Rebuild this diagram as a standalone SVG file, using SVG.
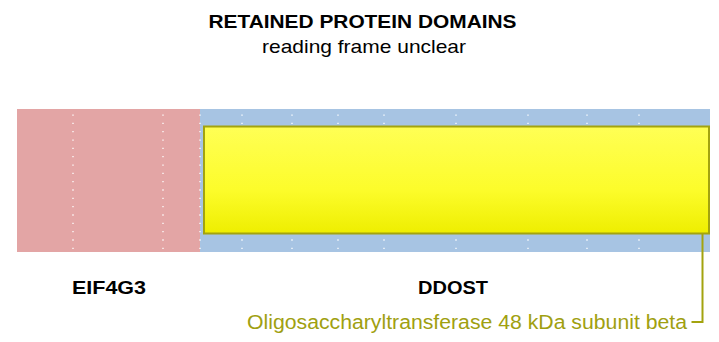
<svg xmlns="http://www.w3.org/2000/svg" width="719" height="342" viewBox="0 0 719 342">
<style>
.t{font-family:"Liberation Sans",Arial,sans-serif;fill:#000}
.b{font-weight:bold}
.grid{stroke:#ffffff;stroke-width:1.3;stroke-dasharray:1.3 7.03;fill:none}
.lbl{font-family:"Liberation Sans",Arial,sans-serif;fill:#a0a010}
.conn{stroke:#a3a30f;stroke-width:2;fill:none}
</style>
<defs>
<linearGradient id="yg" x1="0" y1="0" x2="0" y2="1">
<stop offset="0" stop-color="#ffff55"/>
<stop offset="0.6" stop-color="#fcfc2a"/>
<stop offset="1" stop-color="#eeee00"/>
</linearGradient>
</defs>
<g id="title">
<text class="t b" x="362.5" y="28" font-size="18" text-anchor="middle" textLength="308" lengthAdjust="spacingAndGlyphs">RETAINED PROTEIN DOMAINS</text>
<text class="t" x="364" y="53" font-size="19" text-anchor="middle" textLength="204" lengthAdjust="spacingAndGlyphs">reading frame unclear</text>
</g>
<g id="EIF4G3">
<rect x="17" y="109" width="183" height="143" fill="#e3a5a5"/>
<line class="grid" x1="73" y1="114.4" x2="73" y2="252"/>
<line class="grid" x1="163" y1="114.4" x2="163" y2="252"/>
<text class="t b" x="109" y="294" font-size="18" text-anchor="middle" textLength="74" lengthAdjust="spacingAndGlyphs">EIF4G3</text>
</g>
<g id="DDOST">
<rect x="200" y="109" width="510" height="143" fill="#a7c4e3"/>
<line class="grid" x1="200" y1="114.4" x2="200" y2="252"/>
<line class="grid" x1="242" y1="114.4" x2="242" y2="252"/>
<line class="grid" x1="292" y1="114.4" x2="292" y2="252"/>
<line class="grid" x1="338" y1="114.4" x2="338" y2="252"/>
<line class="grid" x1="384" y1="114.4" x2="384" y2="252"/>
<line class="grid" x1="456" y1="114.4" x2="456" y2="252"/>
<line class="grid" x1="528" y1="114.4" x2="528" y2="252"/>
<line class="grid" x1="587" y1="114.4" x2="587" y2="252"/>
<line class="grid" x1="639" y1="114.4" x2="639" y2="252"/>
<text class="t b" x="453" y="294" font-size="18" text-anchor="middle" textLength="70" lengthAdjust="spacingAndGlyphs">DDOST</text>
</g>
<g id="domain">
<rect x="204" y="126.5" width="505" height="107" fill="url(#yg)" stroke="#a3a30f" stroke-width="2"/>
<text class="lbl" x="247" y="329" font-size="20" textLength="440" lengthAdjust="spacingAndGlyphs">Oligosaccharyltransferase 48 kDa subunit beta</text>
</g>
<g id="connectors">
<polyline class="conn" points="702.5,234 702.5,322 691.5,322"/>
</g>
</svg>
